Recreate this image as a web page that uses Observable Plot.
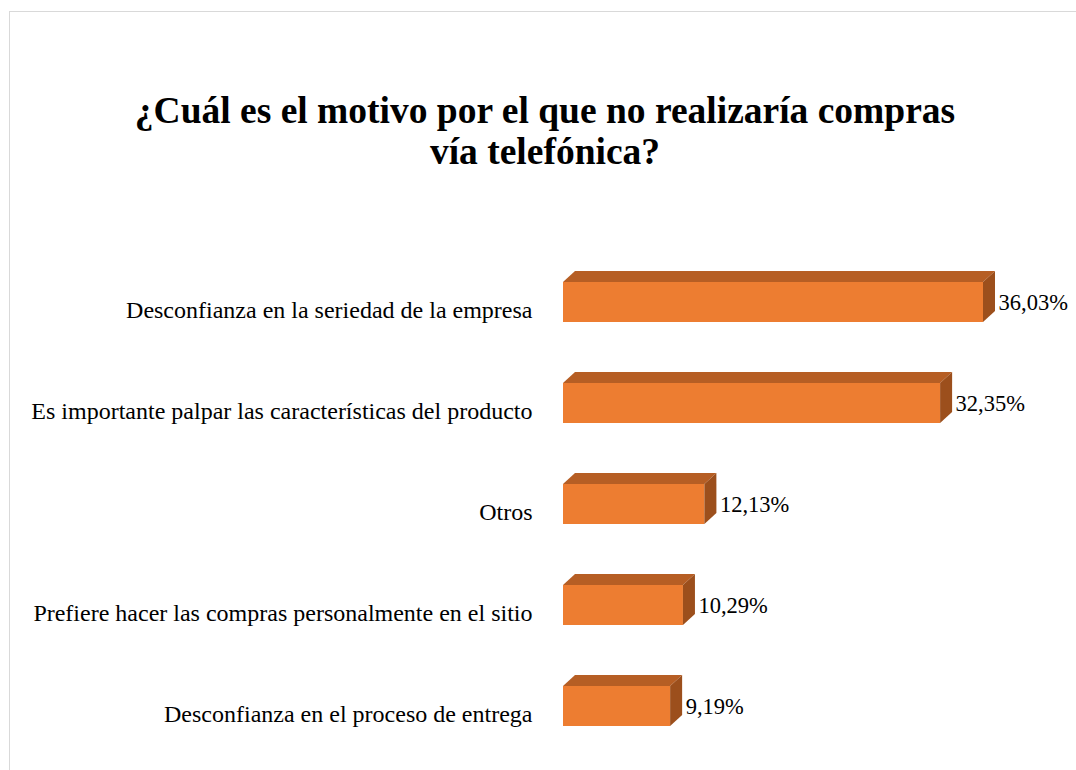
<!DOCTYPE html>
<html>
<head>
<meta charset="utf-8">
<script src="https://cdn.jsdelivr.net/npm/d3@7"></script>
<script src="https://cdn.jsdelivr.net/npm/@observablehq/plot@0.6"></script>
<style>
  html, body { margin: 0; padding: 0; background: #fff; }
  body { width: 1076px; height: 770px; overflow: hidden; position: relative; font-family: "Liberation Serif", "Times New Roman", serif; }
  #frame { position: absolute; left: 9px; top: 11px; width: 1200px; height: 900px; border: 1px solid #d9d9d9; box-sizing: border-box; }
  #title { position: absolute; left: 0; top: 90px; width: 1090px; text-align: center; font-weight: bold; font-size: 37.5px; line-height: 41px; color: #000; }
  #chart { position: absolute; left: 0; top: 200px; }
</style>
</head>
<body>
<div id="frame"></div>
<div id="title">¿Cuál es el motivo por el que no realizaría compras<br>vía telefónica?</div>
<div id="chart"></div>
<script>
const categories = [
  "Desconfianza en la seriedad de la empresa",
  "Es importante palpar las características del producto",
  "Otros",
  "Prefiere hacer las compras personalmente en el sitio",
  "Desconfianza en el proceso de entrega"
];
const values = [36.03, 32.35, 12.13, 10.29, 9.19];
const valueLabels = ["36,03%", "32,35%", "12,13%", "10,29%", "9,19%"];

const data = categories.map((c, i) => ({category: c, value: values[i], label: valueLabels[i]}));

const DX = 12, DY = 11;
const FRONT = "#ED7D31", TOP = "#B65E24", SIDE = "#9C4F1C";

function bar3d(index, scales, vals, dims, ctx, next) {
  const g = next(index, scales, vals, dims, ctx);
  const rects = Array.from(g.querySelectorAll("rect"));
  const extra = d3.create("svg:g");
  for (const r of rects) {
    const x = +r.getAttribute("x"), y = +r.getAttribute("y");
    const w = +r.getAttribute("width"), h = +r.getAttribute("height");
    extra.append("polygon")
      .attr("points", [[x, y], [x + DX, y - DY], [x + w + DX, y - DY], [x + w, y]].join(" "))
      .attr("fill", TOP);
    extra.append("polygon")
      .attr("points", [[x + w, y], [x + w + DX, y - DY], [x + w + DX, y + h - DY], [x + w, y + h]].join(" "))
      .attr("fill", SIDE);
  }
  g.appendChild(extra.node());
  return g;
}

const plot = Plot.plot({
  width: 1076,
  height: 570,
  marginLeft: 563,
  marginRight: 93,
  marginTop: 52,
  marginBottom: 13,
  style: {fontFamily: "'Liberation Serif', 'Times New Roman', serif", fontSize: "24px", color: "#000", background: "transparent"},
  x: {domain: [0, 36.03], axis: null},
  y: {domain: categories, paddingInner: 0.6, paddingOuter: 0.3, align: 0.5, label: null},
  marks: [
    Plot.axisY({tickSize: 0, tickPadding: 31, fontSize: 24, dy: 8, label: null}),
    Plot.barX(data, {x: "value", y: "category", fill: FRONT, render: bar3d}),
    Plot.text(data, {x: "value", y: "category", text: "label", dx: 15, textAnchor: "start", fontSize: 22.5, fill: "#000"})
  ]
});
document.getElementById("chart").appendChild(plot);
</script>
</body>
</html>
